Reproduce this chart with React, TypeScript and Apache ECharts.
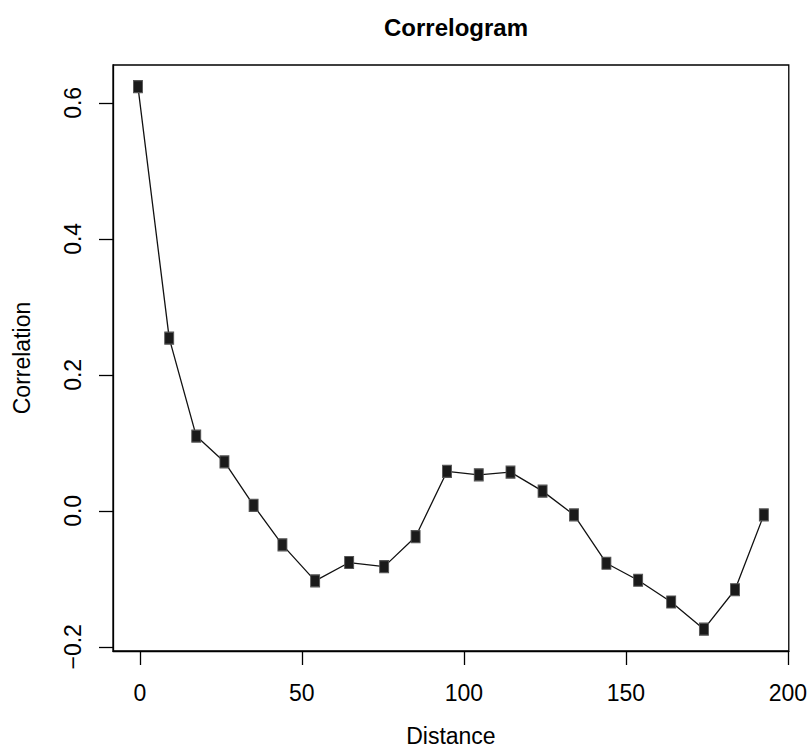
import React, { useEffect, useRef } from "react";
import * as echarts from "echarts";

const distances = [-0.6, 9.05, 17.4, 26.1, 35.1, 44.0, 54.1, 64.6, 75.4, 85.1, 94.8, 104.6, 114.4, 124.3, 134.0, 144.0, 153.8, 164.0, 174.1, 183.7, 192.6];
const correlations = [0.624, 0.254, 0.11, 0.072, 0.008, -0.05, -0.103, -0.076, -0.082, -0.038, 0.058, 0.053, 0.057, 0.029, -0.006, -0.077, -0.102, -0.134, -0.174, -0.116, -0.006];
const xTicks = [0, 50, 100, 150, 200];
const yTicks = [-0.2, 0.0, 0.2, 0.4, 0.6];

const FONT = "'Liberation Sans', Arial, Helvetica, sans-serif";

export default function App() {
  const ref = useRef<HTMLDivElement>(null);
  useEffect(() => {
    if (!ref.current) return;
    const chart = echarts.init(ref.current, null, { renderer: "svg" });
    const points = distances.map((d, i) => [d, correlations[i]]);
    chart.setOption({
      animation: false,
      backgroundColor: "#ffffff",
      textStyle: { fontFamily: FONT, color: "#000" },
      title: {
        text: "Correlogram",
        left: 451,
        top: 10,
        textAlign: "center",
        textStyle: { fontFamily: FONT, fontWeight: "bold", fontSize: 24, color: "#000" },
      },
      grid: {
        left: 113,
        top: 65,
        width: 676,
        height: 591,
        show: true,
        borderColor: "#000",
        borderWidth: 1.3,
        backgroundColor: "transparent",
      },
      xAxis: {
        type: "value",
        min: -8.3,
        max: 200.3,
        name: "Distance",
        nameLocation: "middle",
        nameGap: 73,
        nameTextStyle: { fontFamily: FONT, fontSize: 23, color: "#000" },
        axisLine: { show: true, onZero: false, lineStyle: { color: "#000", width: 1.3 } },
        axisTick: { show: true, length: 14, customValues: xTicks, lineStyle: { color: "#000", width: 1.3 } },
        axisLabel: {
          customValues: xTicks,
          margin: 30,
          fontFamily: FONT,
          fontSize: 23,
          color: "#000",
          formatter: (v: number) => String(v),
        },
        splitLine: { show: false },
      },
      yAxis: {
        type: "value",
        min: -0.2061,
        max: 0.6557,
        name: "Correlation",
        nameLocation: "middle",
        nameGap: 80,
        nameRotate: 90,
        nameTextStyle: { fontFamily: FONT, fontSize: 23, color: "#000" },
        axisLine: { show: true, onZero: false, lineStyle: { color: "#000", width: 1.3 } },
        axisTick: { show: true, length: 14, customValues: yTicks, lineStyle: { color: "#000", width: 1.3 } },
        axisLabel: {
          customValues: yTicks,
          rotate: 90,
          margin: 29,
          fontFamily: FONT,
          fontSize: 23,
          color: "#000",
          formatter: (v: number) => (v < 0 ? "\u2212" + Math.abs(v).toFixed(1) : v.toFixed(1)),
        },
        splitLine: { show: false },
      },
      series: [
        {
          type: "line",
          data: points,
          symbol: "rect",
          symbolSize: [9, 12],
          showAllSymbol: true,
          lineStyle: { color: "#111", width: 1.3 },
          itemStyle: { color: "#1a1a1a", borderColor: "#555", borderWidth: 1 },
          z: 3,
        },
      ],
    });
    return () => chart.dispose();
  }, []);
  return (
    <div
      ref={ref}
      style={{ position: "fixed", left: 0, top: 0, width: 810, height: 752, background: "#fff" }}
    />
  );
}
